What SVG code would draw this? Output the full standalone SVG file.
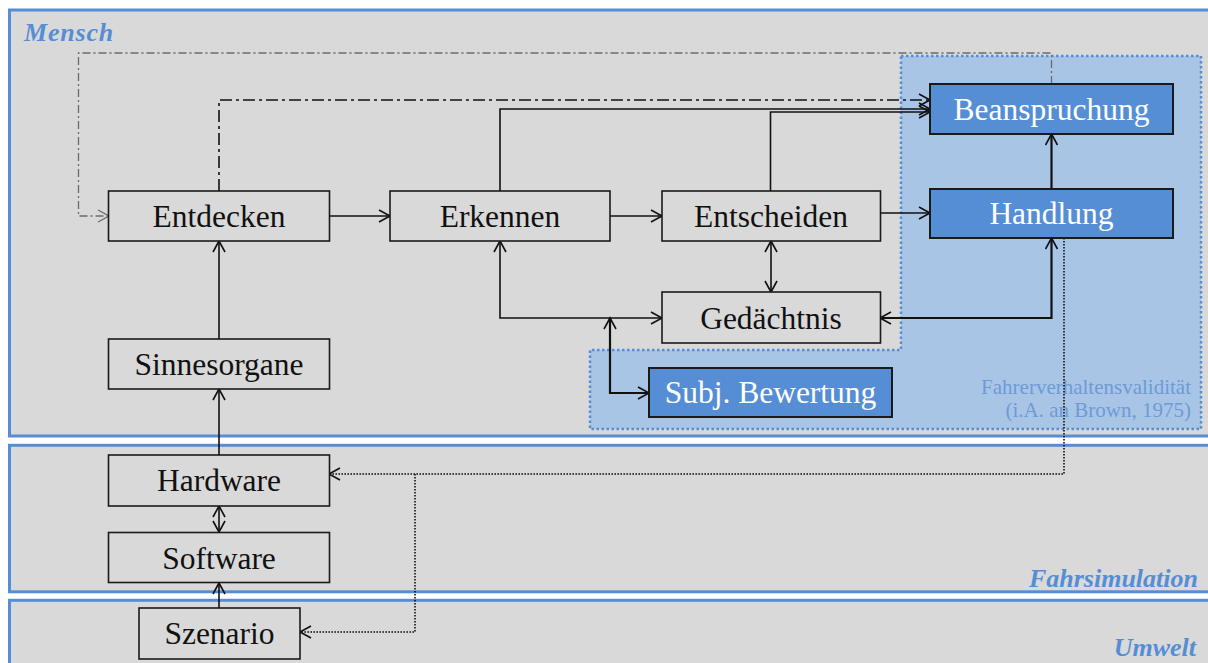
<svg xmlns="http://www.w3.org/2000/svg" width="1208" height="663" viewBox="0 0 1208 663">
  <style>
    .panel { fill: #d9d9d9; stroke: #558ed5; stroke-width: 3; }
    .plabel { font-family: "Liberation Serif", serif; font-weight: bold; font-style: italic; font-size: 26px; fill: #558ed5; }
    .zone { fill: #a8c5e6; stroke: #558ed5; stroke-width: 2.5; stroke-dasharray: 2.5 2.5; }
    .zlabel { font-family: "Liberation Serif", serif; font-size: 21px; fill: #6e9ad6; text-anchor: end; }
    .box { fill: #d9d9d9; stroke: #1a1a1a; stroke-width: 1.6; }
    .hot { fill: #558ed5; stroke: #1a1a1a; stroke-width: 2; }
    .txt { font-family: "Liberation Serif", serif; font-size: 31.5px; fill: #111; text-anchor: middle; }
    .hot + .txt { fill: #ffffff; }
    .wl { fill: #ffffff; }
    .c { fill: none; stroke: #111; stroke-width: 1.6; }
    .thick { stroke-width: 2.2; }
    .dashdot { stroke-dasharray: 12 4 3 4; }
    .grey { stroke: #6b6b6b; stroke-width: 1.3; stroke-dasharray: 8 3 2 3; }
    .dot { stroke-width: 1.6; stroke-dasharray: 1.6 1.4; }
  </style>
  <defs>
    <marker id="arr" markerUnits="userSpaceOnUse" markerWidth="14" markerHeight="14" viewBox="-12 -7 14 14" refX="0" refY="0" orient="auto-start-reverse">
      <path d="M-11,-6 L0,0 L-11,6" fill="none" stroke="#111" stroke-width="1.6"/>
    </marker>
    <marker id="arrg" markerUnits="userSpaceOnUse" markerWidth="14" markerHeight="14" viewBox="-12 -7 14 14" refX="0" refY="0" orient="auto">
      <path d="M-11,-6 L0,0 L-11,6" fill="none" stroke="#6b6b6b" stroke-width="1.3"/>
    </marker>
  </defs>

  <rect width="1208" height="663" fill="#ffffff"/>

  <!-- layers: Mensch / Fahrsimulation / Umwelt -->
  <g id="layers">
    <rect class="panel" x="9.5" y="10" width="1215" height="426"/>
    <rect class="panel" x="9.5" y="445.3" width="1215" height="146.5"/>
    <rect class="panel" x="9.5" y="600.3" width="1215" height="80"/>
    <text class="plabel" x="24" y="41" letter-spacing="0.8">Mensch</text>
    <text class="plabel" x="1198" y="587" text-anchor="end">Fahrsimulation</text>
    <text class="plabel" x="1196" y="656" text-anchor="end">Umwelt</text>
  </g>

  <!-- validity zone -->
  <g id="zone">
    <polygon class="zone" points="901,56 1201,56 1201,429 590,429 590,350 901,350"/>
    <text class="zlabel" x="1191" y="394">Fahrerverhaltensvalidität</text>
    <text class="zlabel" x="1191" y="417">(i.A. an Brown, 1975)</text>
  </g>

  <!-- connectors -->
  <g id="connectors">
    <path class="c" d="M329,216 H390" marker-end="url(#arr)"/>
    <path class="c" d="M610,216 H662" marker-end="url(#arr)"/>
    <path class="c" d="M880,213 H930" marker-end="url(#arr)"/>
    <path class="c thick" d="M1051.5,189 V134" marker-end="url(#arr)"/>
    <path class="c" d="M500,191 V109 H930" marker-end="url(#arr)"/>
    <path class="c" d="M770.5,191 V112 H930" marker-end="url(#arr)"/>
    <path class="c dashdot" d="M219,191 V100 H930" marker-end="url(#arr)"/>
    <path class="c grey" d="M1051.5,84 V53 H78.5 V216 H109" marker-end="url(#arrg)"/>
    <path class="c" d="M219,339 V241" marker-end="url(#arr)"/>
    <path class="c" d="M219,455 V389" marker-end="url(#arr)"/>
    <path class="c" d="M219,506 V532" marker-start="url(#arr)" marker-end="url(#arr)"/>
    <path class="c" d="M219,608 V583" marker-end="url(#arr)"/>
    <path class="c" d="M500,241 V318 H662" marker-start="url(#arr)" marker-end="url(#arr)"/>
    <path class="c thick" d="M610,318 V393 H649" marker-start="url(#arr)" marker-end="url(#arr)"/>
    <path class="c" d="M771,241 V292" marker-start="url(#arr)" marker-end="url(#arr)"/>
    <path class="c thick" d="M1051.5,238 V318 H880" marker-start="url(#arr)" marker-end="url(#arr)"/>
    <path class="c dot" d="M1064,238 V474 H329" marker-end="url(#arr)"/>
    <path class="c dot" d="M415,474 V632 H300" marker-end="url(#arr)"/>
  </g>

  <g id="entdecken">
    <rect class="box" x="108.5" y="191" width="221" height="50"/>
    <text class="txt" x="219" y="227">Entdecken</text>
  </g>
  <g id="erkennen">
    <rect class="box" x="390" y="191" width="220" height="50"/>
    <text class="txt" x="500" y="226.5">Erkennen</text>
  </g>
  <g id="entscheiden">
    <rect class="box" x="662" y="191" width="218.5" height="50"/>
    <text class="txt" x="771" y="226.5">Entscheiden</text>
  </g>
  <g id="beanspruchung">
    <rect class="hot" x="930" y="84" width="243" height="50"/>
    <text class="txt wl" x="1051.5" y="120">Beanspruchung</text>
  </g>
  <g id="handlung">
    <rect class="hot" x="930" y="189" width="243" height="49"/>
    <text class="txt wl" x="1051.5" y="223.5">Handlung</text>
  </g>
  <g id="gedaechtnis">
    <rect class="box" x="662" y="292" width="218.5" height="51"/>
    <text class="txt" x="771" y="328.5">Gedächtnis</text>
  </g>
  <g id="subj-bewertung">
    <rect class="hot" x="649" y="368" width="243" height="49"/>
    <text class="txt wl" x="770.5" y="403">Subj. Bewertung</text>
  </g>
  <g id="sinnesorgane">
    <rect class="box" x="108.5" y="339" width="221" height="50"/>
    <text class="txt" x="219" y="375">Sinnesorgane</text>
  </g>
  <g id="hardware">
    <rect class="box" x="108.5" y="455" width="221" height="51"/>
    <text class="txt" x="219" y="491">Hardware</text>
  </g>
  <g id="software">
    <rect class="box" x="108.5" y="532.5" width="221" height="50"/>
    <text class="txt" x="219" y="568.5">Software</text>
  </g>
  <g id="szenario">
    <rect class="box" x="139" y="608" width="161" height="51"/>
    <text class="txt" x="219.5" y="644">Szenario</text>
  </g>
</svg>
